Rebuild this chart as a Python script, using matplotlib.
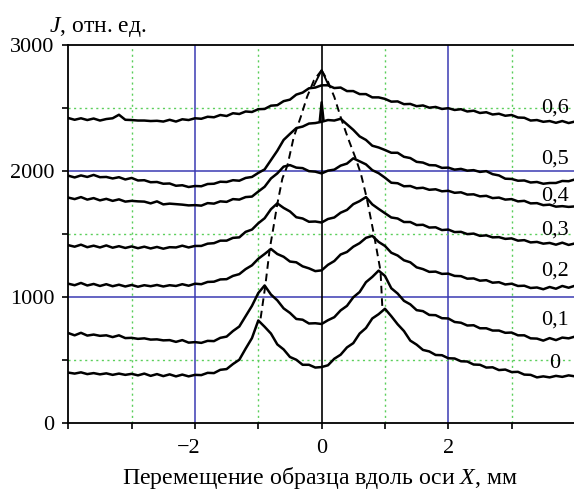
import numpy as np
import matplotlib
matplotlib.use("Agg")
import matplotlib.pyplot as plt
from matplotlib.transforms import ScaledTranslation

plt.rcParams['font.family'] = ['Liberation Serif', 'DejaVu Serif']
plt.rcParams['mathtext.fontset'] = 'custom'
plt.rcParams['mathtext.rm'] = 'Liberation Serif'
plt.rcParams['mathtext.it'] = 'Liberation Serif:italic'
plt.rcParams['lines.scale_dashes'] = False

# ---------------- data ----------------
x_mm = np.round(np.arange(-4.0, 4.0001, 0.1), 2)

curve_00 = [398, 390, 400, 386, 394, 384, 392, 380, 390, 380, 388, 376, 390, 372, 386, 370, 384, 368, 382, 368,
            380, 378, 396, 394, 420, 426, 466, 500, 588, 672, 812, 762, 708, 622, 582, 522, 500, 460, 460, 438,
            442, 456, 508, 540, 598, 632, 708, 752, 828, 862, 905, 846, 782, 728, 652, 620, 578, 566, 538, 536,
            512, 510, 488, 486, 462, 460, 438, 440, 418, 422, 402, 404, 382, 380, 360, 368, 360, 372, 364, 376, 368]
curve_01 = [712, 694, 714, 692, 700, 690, 694, 680, 694, 672, 674, 666, 670, 660, 662, 654, 656, 642, 656, 636,
            640, 634, 650, 648, 674, 684, 728, 764, 846, 928, 1030, 1090, 1018, 972, 908, 872, 824, 818, 788, 790,
            784, 814, 838, 892, 928, 996, 1038, 1116, 1158, 1208, 1166, 1068, 1026, 968, 940, 894, 886, 856, 854, 830,
            828, 800, 794, 772, 774, 750, 750, 732, 732, 714, 716, 694, 694, 670, 668, 652, 672, 656, 676, 670, 684]
curve_02 = [1104, 1092, 1110, 1090, 1102, 1086, 1100, 1084, 1096, 1082, 1094, 1080, 1092, 1084, 1094, 1082, 1092, 1086, 1100, 1088,
            1104, 1100, 1118, 1120, 1138, 1140, 1166, 1180, 1220, 1250, 1302, 1340, 1380, 1340, 1318, 1280, 1274, 1242, 1226, 1204,
            1210, 1254, 1284, 1336, 1356, 1398, 1426, 1468, 1484, 1436, 1404, 1350, 1328, 1290, 1274, 1234, 1220, 1198, 1200, 1182,
            1184, 1166, 1164, 1144, 1146, 1128, 1132, 1112, 1116, 1098, 1104, 1086, 1088, 1070, 1074, 1060, 1078, 1064, 1086, 1072, 1088]
curve_03 = [1410, 1398, 1414, 1394, 1406, 1392, 1408, 1390, 1402, 1388, 1400, 1386, 1398, 1384, 1396, 1382, 1394, 1392, 1406, 1392,
            1404, 1404, 1422, 1426, 1446, 1446, 1468, 1472, 1516, 1534, 1584, 1624, 1696, 1742, 1706, 1678, 1632, 1622, 1596, 1598,
            1590, 1618, 1630, 1668, 1690, 1736, 1760, 1792, 1734, 1698, 1664, 1630, 1622, 1594, 1594, 1570, 1572, 1550, 1552, 1530,
            1534, 1514, 1516, 1498, 1502, 1484, 1488, 1472, 1474, 1460, 1464, 1446, 1450, 1432, 1436, 1422, 1428, 1414, 1430, 1412, 1424]
curve_04 = [1788, 1776, 1792, 1772, 1784, 1766, 1778, 1762, 1774, 1756, 1762, 1758, 1756, 1742, 1758, 1734, 1740, 1736, 1732, 1726,
            1728, 1724, 1744, 1740, 1758, 1754, 1776, 1772, 1792, 1796, 1836, 1874, 1940, 1980, 2034, 2046, 2026, 2022, 1998, 1994,
            1980, 2002, 2010, 2042, 2058, 2100, 2076, 2052, 2006, 1982, 1946, 1906, 1902, 1878, 1880, 1862, 1866, 1850, 1854, 1838,
            1842, 1826, 1830, 1812, 1814, 1798, 1802, 1784, 1788, 1772, 1776, 1758, 1762, 1742, 1744, 1728, 1732, 1716, 1720, 1714, 1718]
curve_05 = [1962, 1948, 1964, 1952, 1968, 1950, 1952, 1940, 1950, 1932, 1944, 1924, 1926, 1910, 1912, 1898, 1900, 1882, 1886, 1872,
            1880, 1878, 1896, 1898, 1914, 1912, 1926, 1922, 1944, 1952, 1984, 2012, 2086, 2160, 2246, 2294, 2340, 2352, 2376, 2380,
            2390, 2404, 2400, 2414, 2370, 2326, 2274, 2246, 2200, 2186, 2166, 2144, 2144, 2112, 2102, 2072, 2066, 2046, 2044, 2024,
            2026, 2010, 2016, 2002, 2006, 1992, 1998, 1974, 1964, 1938, 1936, 1922, 1924, 1908, 1912, 1898, 1904, 1904, 1920, 1918, 1932]
curve_06 = [2420, 2406, 2418, 2404, 2416, 2400, 2412, 2418, 2446, 2406, 2404, 2400, 2400, 2396, 2398, 2392, 2406, 2392, 2410, 2404,
            2418, 2414, 2430, 2426, 2444, 2436, 2458, 2452, 2472, 2468, 2490, 2492, 2518, 2522, 2554, 2566, 2606, 2622, 2656, 2662,
            2680, 2680, 2658, 2662, 2634, 2634, 2610, 2610, 2584, 2584, 2572, 2550, 2552, 2530, 2532, 2514, 2520, 2502, 2508, 2492,
            2498, 2484, 2490, 2472, 2478, 2460, 2466, 2448, 2454, 2438, 2444, 2424, 2422, 2400, 2404, 2390, 2396, 2382, 2396, 2380, 2392]

curves = [curve_00, curve_01, curve_02, curve_03, curve_04, curve_05, curve_06]
curve_labels = ["0", "0,1", "0,2", "0,3", "0,4", "0,5", "0,6"]
label_y = [470, 816, 1201, 1529, 1798, 2093, 2500]

# narrow spike on the 0,5 curve
spike_x = [-0.03, 0.0, 0.03]
spike_y = [2392, 2545, 2400]

# dashed lines through the peaks, meeting at apex
left_dash_x = [0.0, -0.12, -0.23, -0.33, -0.44, -0.54, -0.62, -0.70, -0.77, -0.82, -0.89, -0.97]
left_dash_y = [2800, 2721, 2588, 2428, 2269, 2043, 1939, 1737, 1524, 1378, 1085, 806]
right_dash_x = [0.0, 0.09, 0.20, 0.30, 0.41, 0.54, 0.62, 0.71, 0.83, 0.93, 0.96]
right_dash_y = [2800, 2721, 2588, 2428, 2269, 2096, 1977, 1790, 1484, 1205, 902]
apex_x = [-0.12, 0.0, 0.11]
apex_y = [2680, 2800, 2680]

x_ticks = [-4, -3, -2, -1, 0, 1, 2, 3]
x_ticklabels = ["", "", "\u22122", "", "0", "", "2", ""]
y_ticks = [0, 500, 1000, 1500, 2000, 2500, 3000]
y_ticklabels = ["0", "", "1000", "", "2000", "", "3000"]
blue_x = [-2, 2]
green_x = [-3, -1, 1, 3]
blue_y = [1000, 2000]
green_y = [500, 1500, 2500]

# ---------------- figure ----------------
W, H = 574, 490
fig = plt.figure(figsize=(W / 100, H / 100), dpi=100)
L, R, T, B = 68.3, 574, 45, 422.7
ax = fig.add_axes([L / W, 1 - B / H, (R - L) / W, (B - T) / H])
ax.set_xlim(-4.0, 3.985)
ax.set_ylim(0, 3000)

blue = '#3b3bb3'
green = '#5ccf5c'
for v in blue_x:
    ax.axvline(v, color=blue, lw=1.1, zorder=1)
for v in blue_y:
    ax.axhline(v, color=blue, lw=1.1, zorder=1)
for v in green_x:
    ax.axvline(v, color=green, lw=1.0, ls=(0, (1.5, 2.5)), zorder=1)
for v in green_y:
    ax.axhline(v, color=green, lw=1.0, ls=(0, (1.5, 2.5)), zorder=1)
ax.axvline(0, color='black', lw=1.2, zorder=2)

for c in curves:
    ax.plot(x_mm, c, color='black', lw=1.8, zorder=3)
ax.plot(spike_x, spike_y, color='black', lw=1.8, zorder=3)

ax.plot(left_dash_x, left_dash_y, color='black', lw=1.4, dashes=(5.5, 3.5), zorder=3)
ax.plot(right_dash_x, right_dash_y, color='black', lw=1.4, dashes=(5.5, 3.5), zorder=3)
ax.plot(apex_x, apex_y, color='black', lw=1.4, zorder=3)

for lab, yy in zip(curve_labels, label_y):
    ax.text(3.68, yy, lab, fontsize=16, ha='center', va='center', zorder=4)

ax.spines['right'].set_visible(False)
for s in ['left', 'bottom', 'top']:
    ax.spines[s].set_linewidth(1.3)
ax.set_xticks(x_ticks)
ax.set_xticklabels(x_ticklabels)
ax.set_yticks(y_ticks)
ax.set_yticklabels(y_ticklabels)
ax.tick_params(axis='both', direction='out', length=4.5, width=1.2, labelsize=16)
ax.tick_params(axis='y', pad=5.5)
ax.tick_params(axis='x', pad=7)

# digit of the negative label sits centred on its tick, sign hangs to the left
for lbl in ax.get_xticklabels():
    if lbl.get_text().startswith("\u2212"):
        lbl.set_horizontalalignment('right')
        lbl.set_transform(lbl.get_transform() + ScaledTranslation(6 / 100, 0, fig.dpi_scale_trans))

fig.text(320 / W, 1 - 483.5 / H, "Перемещение образца вдоль оси $X$, мм",
         fontsize=17.2, ha='center', va='baseline')
fig.text(49 / W, 1 - 32 / H, "$J$, отн. ед.", fontsize=17, ha='left', va='baseline')

fig.savefig("out.png", dpi=100)
